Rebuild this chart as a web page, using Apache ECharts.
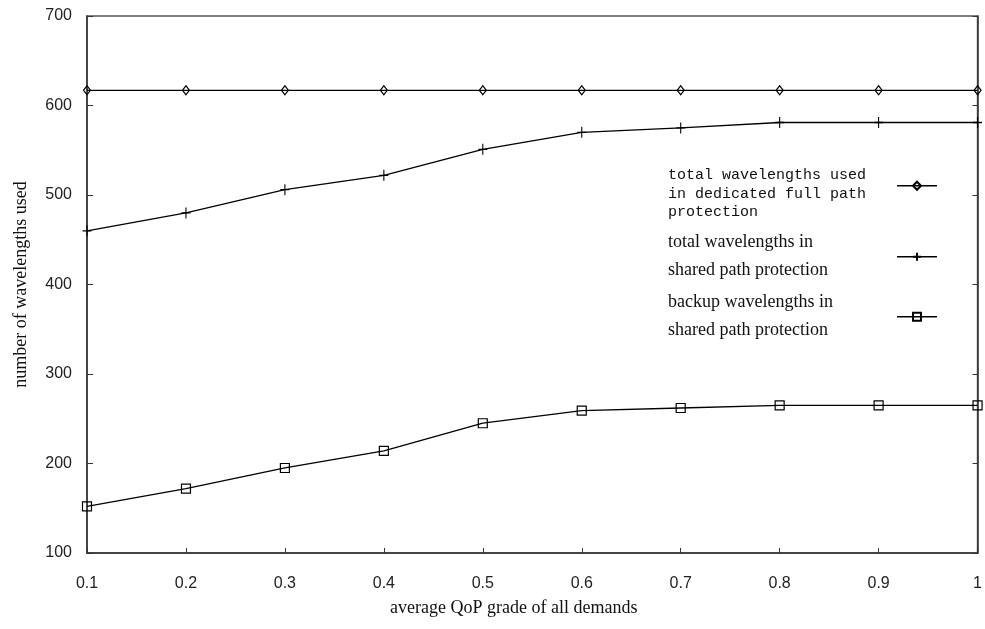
<!DOCTYPE html>
<html>
<head>
<meta charset="utf-8">
<script src="https://cdn.jsdelivr.net/npm/echarts@6/dist/echarts.min.js"></script>
<style>html,body{margin:0;padding:0;background:#fff;}#c{width:985px;height:629px;}</style>
</head>
<body>
<div id="c"></div>
<script>
const categories = ['0.1','0.2','0.3','0.4','0.5','0.6','0.7','0.8','0.9','1'];
const dedicatedTotal = [617,617,617,617,617,617,617,617,617,617];
const sharedTotal = [460,480,506,522,551,570,575,581,581,581];
const sharedBackup = [152,172,195,214,245,259,262,265,265,265];
const seriesNames = [
  'total wavelengths used\nin dedicated full path\nprotection',
  'total wavelengths in\nshared path protection',
  'backup wavelengths in\nshared path protection'
];
const yMin = 100, yMax = 700, yStep = 100;

const chart = echarts.init(document.getElementById('c'), null, {renderer: 'canvas'});
const tickFont = {fontFamily: '"Liberation Sans", Arial, sans-serif', fontSize: 16, color: '#222'};
const serif = '"Liberation Serif", "Times New Roman", serif';
const mono = '"Liberation Mono", "Courier New", monospace';

function mkSeries(name, data, symbol, size, fill) {
  return {
    name: name, type: 'line', data: data,
    symbol: symbol, symbolSize: size, showSymbol: true,
    clip: false,
    lineStyle: {color: '#000', width: 1.3},
    itemStyle: {color: fill, borderColor: '#000', borderWidth: 1.2},
    emphasis: {disabled: true},
    animation: false
  };
}

chart.setOption({
  backgroundColor: '#fff',
  animation: false,
  grid: {left: 87, right: 5, top: 16, bottom: 76, show: true, borderColor: '#555', borderWidth: 1.5, backgroundColor: 'transparent'},
  legend: {
    orient: 'vertical', left: 663, top: 148, align: 'right',
    itemWidth: 40, itemHeight: 10, itemGap: 14,
    selectedMode: false,
    data: seriesNames,
    lineStyle: {width: 1.3},
    formatter: function (name) {
      const lines = name.split('\n');
      if (name === seriesNames[0]) return '{g|}\n{m|' + lines.join('}\n{m|') + '}';
      return '{s|' + lines.join('}\n{s|') + '}';
    },
    textStyle: {
      rich: {
        g: {fontSize: 10, lineHeight: 16, width: 224, align: 'left'},
        m: {fontFamily: mono, fontSize: 15, lineHeight: 18.5, color: '#111', width: 224, align: 'left'},
        s: {fontFamily: serif, fontSize: 18, lineHeight: 28, color: '#111', width: 224, align: 'left'}
      }
    }
  },
  xAxis: {
    type: 'category', data: categories, boundaryGap: false,
    name: 'average QoP grade of all demands', nameLocation: 'middle', nameGap: 46,
    nameTextStyle: {fontFamily: serif, fontSize: 18, color: '#111', padding: [0, 37, 0, 0]},
    axisLine: {lineStyle: {color: '#333', width: 1.5}},
    axisTick: {inside: true, length: 5, lineStyle: {color: '#333'}},
    axisLabel: Object.assign({margin: 23}, tickFont),
    splitLine: {show: false}
  },
  yAxis: [{
    type: 'value', min: yMin, max: yMax, interval: yStep,
    name: 'number of wavelengths used', nameLocation: 'middle', nameGap: 57,
    nameTextStyle: {fontFamily: serif, fontSize: 18, color: '#111'},
    axisLine: {show: true, lineStyle: {color: '#333', width: 1.5}},
    axisTick: {show: true, inside: true, length: 6, lineStyle: {color: '#333'}},
    axisLabel: Object.assign({margin: 15}, tickFont),
    splitLine: {show: false}
  }, {
    type: 'value', min: yMin, max: yMax, interval: yStep, position: 'right',
    axisLine: {show: true, lineStyle: {color: '#333', width: 1.5}},
    axisTick: {show: true, inside: true, length: 5, lineStyle: {color: '#333'}},
    axisLabel: {show: false},
    splitLine: {show: false}
  }],
  series: [
    mkSeries(seriesNames[0], dedicatedTotal, 'diamond', [7, 9], 'rgba(0,0,0,0)'),
    mkSeries(seriesNames[1], sharedTotal, 'path://M5,0L5,10M0,5L10,5', [9, 11], 'rgba(0,0,0,0)'),
    mkSeries(seriesNames[2], sharedBackup, 'rect', 9, 'rgba(0,0,0,0)')
  ]
});
</script>
</body>
</html>
